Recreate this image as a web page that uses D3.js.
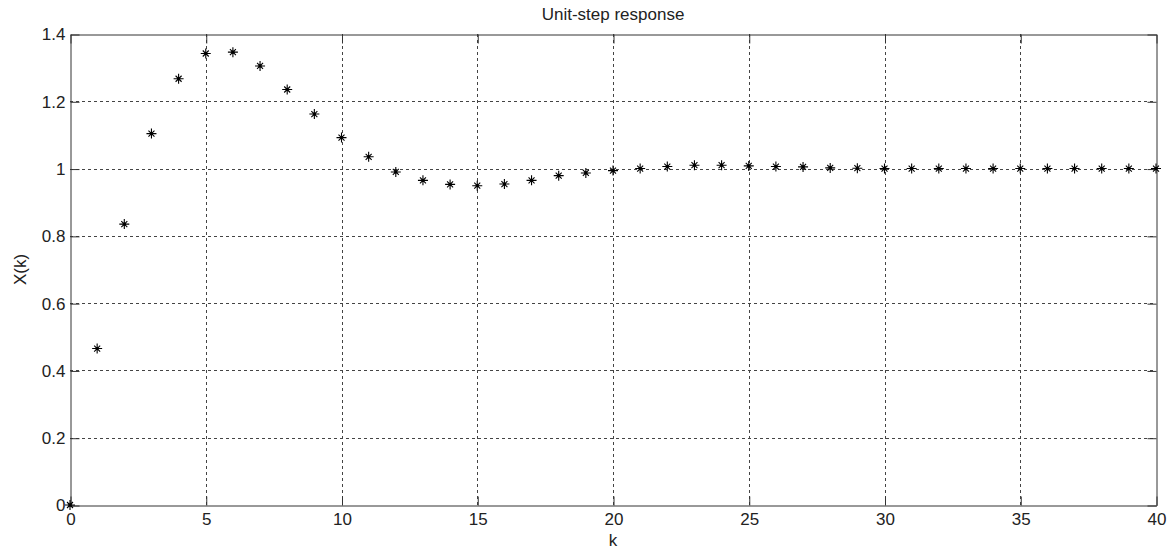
<!DOCTYPE html>
<html>
<head>
<meta charset="utf-8">
<script src="https://cdn.jsdelivr.net/npm/d3@7"></script>
<style>
  body { margin: 0; background: #fff; }
  svg text { font-family: "Liberation Sans", Arial, sans-serif; fill: #222; }
</style>
</head>
<body>
<svg id="chart"></svg>
<script>
// Data
const steps = [0,1,2,3,4,5,6,7,8,9,10,11,12,13,14,15,16,17,18,19,20,
  21,22,23,24,25,26,27,28,29,30,31,32,33,34,35,36,37,38,39,40];
const response = [0, 0.465, 0.835, 1.104, 1.267, 1.342, 1.346, 1.305, 1.235, 1.162, 1.092,
  1.035, 0.990, 0.965, 0.953, 0.949, 0.954, 0.965, 0.979, 0.987, 0.994,
  1.000, 1.006, 1.010, 1.010, 1.008, 1.006, 1.005, 1.002, 1.001, 1.000,
  1.000, 1.000, 1.000, 1.000, 1.000, 1.000, 1.000, 1.000, 1.000, 1.000];
const xTicks = [0, 5, 10, 15, 20, 25, 30, 35, 40];
const yTicks = [0, 0.2, 0.4, 0.6, 0.8, 1, 1.2, 1.4];

// Chart dimensions
const width = 1170;
const height = 549;
const margin = { top: 34, right: 14, bottom: 44, left: 70 };
const innerW = width - margin.left - margin.right;
const innerH = height - margin.top - margin.bottom;
const tickLen = 9;
const axisColor = "#333";

const svg = d3.select("#chart").attr("width", width).attr("height", height);
const g = svg.append("g").attr("transform", `translate(${margin.left},${margin.top})`);

const x = d3.scaleLinear().domain([0, 40]).range([0, innerW]);
const y = d3.scaleLinear().domain([0, 1.4]).range([innerH, 0]);

// Grid lines
g.append("g")
  .selectAll("line")
  .data(xTicks.slice(1, -1))
  .join("line")
  .attr("x1", (d) => Math.round(x(d)) + 0.5)
  .attr("x2", (d) => Math.round(x(d)) + 0.5)
  .attr("y1", 0)
  .attr("y2", innerH)
  .attr("stroke", "#444")
  .attr("stroke-dasharray", "3,3");

g.append("g")
  .selectAll("line")
  .data(yTicks.slice(1, -1))
  .join("line")
  .attr("x1", 0)
  .attr("x2", innerW)
  .attr("y1", (d) => Math.round(y(d)) + 0.5)
  .attr("y2", (d) => Math.round(y(d)) + 0.5)
  .attr("stroke", "#444")
  .attr("stroke-dasharray", "3,3");

// Axes (MATLAB style: inner ticks on all four sides)
const fmt = (d) => (d === 0 ? "0" : d3.format("~g")(d));

const xBottom = g.append("g")
  .attr("transform", `translate(0.5,${innerH + 0.5})`)
  .call(d3.axisBottom(x).tickValues(xTicks).tickSizeInner(-tickLen).tickSizeOuter(0).tickPadding(7).tickFormat(fmt));
const xTop = g.append("g")
  .attr("transform", `translate(0.5,0.5)`)
  .call(d3.axisTop(x).tickValues(xTicks).tickSizeInner(-tickLen).tickSizeOuter(0).tickFormat(""));
const yLeft = g.append("g")
  .attr("transform", `translate(0.5,0.5)`)
  .call(d3.axisLeft(y).tickValues(yTicks).tickSizeInner(-tickLen).tickSizeOuter(0).tickPadding(5).tickFormat(fmt));
const yRight = g.append("g")
  .attr("transform", `translate(${innerW + 0.5},0.5)`)
  .call(d3.axisRight(y).tickValues(yTicks).tickSizeInner(-tickLen).tickSizeOuter(0).tickFormat(""));

[xBottom, xTop, yLeft, yRight].forEach((a) => {
  a.selectAll("path.domain").attr("stroke", axisColor);
  a.selectAll(".tick line").attr("stroke", axisColor);
  a.selectAll(".tick text")
    .attr("fill", "#222")
    .style("font-size", "17px")
    .style("font-family", "'Liberation Sans', Arial, sans-serif");
});

// Markers: asterisk
function asterisk(r, rd) {
  return `M0,${-r}V${r}M${-r},0H${r}` +
    `M${-rd},${-rd}L${rd},${rd}M${-rd},${rd}L${rd},${-rd}`;
}

const points = steps.map((k, i) => ({ k, v: response[i] }));

g.append("g")
  .selectAll("path")
  .data(points)
  .join("path")
  .attr("transform", (d) => `translate(${x(d.k)},${y(d.v)})`)
  .attr("d", asterisk(5, 3))
  .attr("fill", "none")
  .attr("stroke", "#000")
  .attr("stroke-width", 1.1);

g.append("g")
  .selectAll("circle")
  .data(points)
  .join("circle")
  .attr("cx", (d) => x(d.k))
  .attr("cy", (d) => y(d.v))
  .attr("r", 1.6)
  .attr("fill", "#000");

// Titles
svg.append("text")
  .attr("x", margin.left + innerW / 2)
  .attr("y", 20)
  .attr("text-anchor", "middle")
  .style("font-size", "17px")
  .text("Unit-step response");

svg.append("text")
  .attr("x", margin.left + innerW / 2)
  .attr("y", 546)
  .attr("text-anchor", "middle")
  .style("font-size", "17px")
  .text("k");

svg.append("text")
  .attr("transform", `translate(26,${margin.top + innerH / 2}) rotate(-90)`)
  .attr("text-anchor", "middle")
  .style("font-size", "17px")
  .text("X(k)");
</script>
</body>
</html>
